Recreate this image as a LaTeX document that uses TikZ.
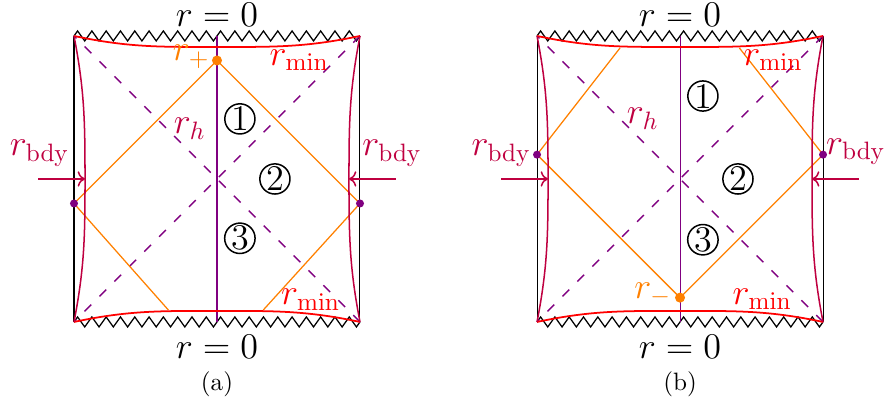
\documentclass[tikz,border=0pt]{standalone}
\usepackage{amsmath,amssymb}
\usetikzlibrary{
    arrows.meta,
    decorations.pathmorphing
}
\tikzset{
    sing/.style={line width=0.5pt,decorate,decoration={zigzag,segment length=2mm,amplitude=0.7mm}},
    horizon/.style={violet,line width=0.55pt,dash pattern=on 3.8pt off 4.6pt},
    ray/.style={orange,line width=0.5pt},
    rminline/.style={red,line width=0.7pt},
    bdyline/.style={purple,line width=0.6pt},
    region/.style={circle,draw,line width=0.6pt,inner sep=0pt,minimum size=12pt,font=\Large}
}

\begin{document}
\begin{tikzpicture}

\useasboundingbox (-3.035,-3.161) rectangle (9.427,2.503);

%%%%% (a)
% Frame
\draw (-2,-2) -- (-2,2);
\draw (2,-2) -- (2,2);
\draw[sing] (-2,2) -- (2,2);
\draw[sing] (2,-2) -- (-2,-2);

% Horizons
\draw[horizon] (2,2) -- (-2,-2);
\draw[horizon] (2,-2) -- (-2,2);
\draw[violet] (0,2) -- (0,-2);

% Light rays
\coordinate (pA) at (0,1.657);
\coordinate (lA) at (-2,-0.343);
\coordinate (rA) at (2,-0.343);
\coordinate (lendA) at (-0.681,-1.832);
\coordinate (rendA) at (0.648,-1.832);
\draw[ray] (lendA) -- (lA) -- (pA) -- (rA) -- (rendA);

% r_min surfaces
\draw[rminline] (-2,2) to[out=-12,in=180] (0,1.846) to[out=0,in=-168] (2,2);
\draw[rminline] (-2,-2) to[out=12,in=180] (0,-1.846) to[out=0,in=168] (2,-2);

% Boundary
\draw[bdyline] (-2,2) to[out=-79,in=90] (-1.846,0) to[out=-90,in=79] (-2,-2);
\draw[bdyline] (2,2) to[out=-101,in=90] (1.846,0) to[out=-90,in=101] (2,-2);
\draw[bdyline,->] (-2.5,0) -- (-1.846,0);
\draw[bdyline,->] (2.5,0) -- (1.846,0);

% Points
\fill[orange] (pA) circle (2pt);
\fill[violet] (lA) circle (1.6pt);
\fill[violet] (rA) circle (1.6pt);

% Labels
\node[font=\Large] at (0,2.29) {$r=0$};
\node[font=\Large] at (0,-2.35) {$r=0$};
\node[font=\Large,orange] at (-0.36,1.71) {$r_+$};
\node[font=\Large,red] at (1.15,1.66) {$r_{\min}$};
\node[font=\Large,red] at (1.31,-1.69) {$r_{\min}$};
\node[font=\Large,purple] at (-0.38,0.70) {$r_h$};
\node[font=\Large,purple] at (-2.48,0.36) {$r_{\mathrm{bdy}}$};
\node[font=\Large,purple] at (2.45,0.36) {$r_{\mathrm{bdy}}$};
\node[region] at (0.32,0.84) {1};
\node[region] at (0.81,0) {2};
\node[region] at (0.32,-0.83) {3};
\node at (0,-2.87) {(a)};

%%%%% (b)
\begin{scope}[xshift=6.476cm]
% Frame
\draw (-2,-2) -- (-2,2);
\draw (2,-2) -- (2,2);
\draw[sing] (-2,2) -- (2,2);
\draw[sing] (2,-2) -- (-2,-2);

% Horizons
\draw[horizon] (2,2) -- (-2,-2);
\draw[horizon] (2,-2) -- (-2,2);
\draw[violet] (0,2) -- (0,-2);

% Light rays
\coordinate (pB) at (0,-1.66);
\coordinate (lB) at (-2,0.34);
\coordinate (rB) at (2,0.34);
\coordinate (lendB) at (-0.839,1.832);
\coordinate (rendB) at (0.83,1.832);
\draw[ray] (lendB) -- (lB) -- (pB) -- (rB) -- (rendB);

% r_min surfaces
\draw[rminline] (-2,2) to[out=-12,in=180] (0,1.846) to[out=0,in=-168] (2,2);
\draw[rminline] (-2,-2) to[out=12,in=180] (0,-1.846) to[out=0,in=168] (2,-2);

% Boundary
\draw[bdyline] (-2,2) to[out=-79,in=90] (-1.846,0) to[out=-90,in=79] (-2,-2);
\draw[bdyline] (2,2) to[out=-101,in=90] (1.846,0) to[out=-90,in=101] (2,-2);
\draw[bdyline,->] (-2.5,0) -- (-1.846,0);
\draw[bdyline,->] (2.5,0) -- (1.846,0);

% Points
\fill[orange] (pB) circle (2pt);
\fill[violet] (lB) circle (1.6pt);
\fill[violet] (rB) circle (1.6pt);

% Labels
\node[font=\Large] at (0,2.29) {$r=0$};
\node[font=\Large] at (0,-2.35) {$r=0$};
\node[font=\Large,orange] at (-0.38,-1.61) {$r_-$};
\node[font=\Large,red] at (1.30,1.66) {$r_{\min}$};
\node[font=\Large,red] at (1.15,-1.68) {$r_{\min}$};
\node[font=\Large,purple] at (-0.52,0.84) {$r_h$};
\node[font=\Large,purple] at (-2.50,0.36) {$r_{\mathrm{bdy}}$};
\node[font=\Large,purple] at (2.46,0.38) {$r_{\mathrm{bdy}}$};
\node[region] at (0.32,1.16) {1};
\node[region] at (0.81,0) {2};
\node[region] at (0.32,-0.85) {3};
\node at (0,-2.87) {(b)};
\end{scope}

\end{tikzpicture}
\end{document}
